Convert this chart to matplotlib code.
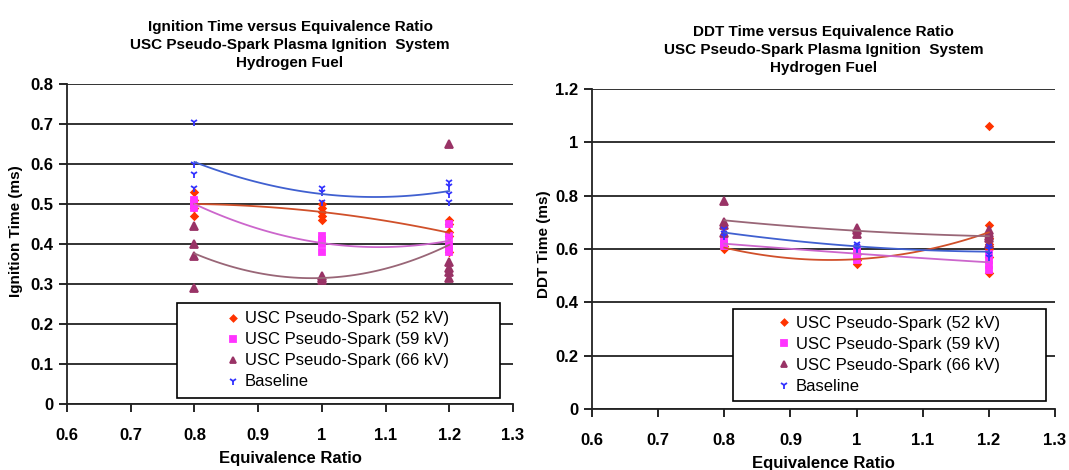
import numpy as np
import matplotlib
matplotlib.use('Agg')
import matplotlib.pyplot as plt
from matplotlib.patches import Rectangle

# ---- dados ----
labels = ['USC Pseudo-Spark (52 kV)', 'USC Pseudo-Spark (59 kV)',
          'USC Pseudo-Spark (66 kV)', 'Baseline']
phi_levels = [0.8, 1.0, 1.2]

# Ignition time (ms) por serie, um grupo por razao de equivalencia
ign_52 = [[0.53, 0.51, 0.50, 0.49, 0.47], [0.50, 0.49, 0.48, 0.47, 0.46], [0.46, 0.45, 0.43, 0.42, 0.38]]
ign_59 = [[0.51, 0.50, 0.49], [0.42, 0.41, 0.40, 0.38], [0.45, 0.42, 0.40, 0.39, 0.38]]
ign_66 = [[0.445, 0.40, 0.37, 0.29], [0.32, 0.315, 0.31], [0.65, 0.355, 0.34, 0.33, 0.315]]
ign_base = [[0.705, 0.60, 0.575, 0.54], [0.54, 0.53, 0.505], [0.555, 0.545, 0.525, 0.505]]

# DDT time (ms)
ddt_52 = [[0.61, 0.60], [0.58, 0.56, 0.545], [1.06, 0.69, 0.64, 0.62, 0.61, 0.60, 0.57, 0.51]]
ddt_59 = [[0.63, 0.62, 0.61], [0.60, 0.59, 0.58, 0.56], [0.58, 0.56, 0.54, 0.52]]
ddt_66 = [[0.78, 0.70, 0.69, 0.66], [0.68, 0.67, 0.655], [0.67, 0.66, 0.65, 0.64, 0.62]]
ddt_base = [[0.675, 0.66, 0.65], [0.62, 0.61, 0.60], [0.61, 0.60, 0.58, 0.57]]

ign_yticks = [0, 0.1, 0.2, 0.3, 0.4, 0.5, 0.6, 0.7, 0.8]
ddt_yticks = [0, 0.2, 0.4, 0.6, 0.8, 1.0, 1.2]
xticks = [0.6, 0.7, 0.8, 0.9, 1.0, 1.1, 1.2, 1.3]

# ---- estilos ----
marker_col = ['#FF3300', '#FF33FF', '#993366', '#3333FF']
trend_col = ['#D0502A', '#CC66CC', '#996677', '#4060D0']
markers = ['D', 's', '^', '1']
msizes = [3.5, 4.5, 5.5, 6]

fonte = ['Liberation Sans', 'DejaVu Sans']


def achatar(grupos):
    xs, ys = [], []
    for phi, g in zip(phi_levels, grupos):
        xs += [phi] * len(g)
        ys += g
    return np.array(xs), np.array(ys)


def desenhar(ax, series, yticks, titulo, ylabel, ylab_pos, leg_box):
    handles = []
    for i, grupos in enumerate(series):
        xs, ys = achatar(grupos)
        h, = ax.plot(xs, ys, linestyle='none', marker=markers[i], ms=msizes[i],
                     color=marker_col[i], mec=marker_col[i], mew=1.3, zorder=3,
                     label=labels[i])
        handles.append(h)
        # linha de tendencia polinomial (ordem 2) como no Excel
        coef = np.polyfit(xs, ys, 2)
        xx = np.linspace(min(phi_levels), max(phi_levels), 60)
        ax.plot(xx, np.polyval(coef, xx), color=trend_col[i], lw=1.3, zorder=4)

    ax.set_xlim(0.6, 1.3)
    ax.set_ylim(0, yticks[-1])
    ax.set_xticks(xticks)
    ax.set_yticks(yticks)
    ax.set_xticklabels(['%g' % v for v in xticks], fontfamily=fonte,
                       fontweight='bold', fontsize=12)
    ax.set_yticklabels(['%g' % v for v in yticks], fontfamily=fonte,
                       fontweight='bold', fontsize=12)
    ax.tick_params(axis='x', direction='out', length=6, width=1.2, pad=11)
    ax.tick_params(axis='y', direction='out', length=6, width=1.2, pad=4)
    ax.grid(axis='y', color='#222222', lw=1.3)
    ax.set_axisbelow(True)
    for s in ['top', 'right']:
        ax.spines[s].set_visible(False)
    for s in ['left', 'bottom']:
        ax.spines[s].set_linewidth(1.3)
        ax.spines[s].set_color('#222222')

    ax.set_title(titulo, fontfamily=fonte, fontweight='bold',
                 fontsize=11, linespacing=1.4, pad=12)
    ax.set_ylabel(ylabel, fontfamily=fonte, fontweight='bold', fontsize=11)
    ax.yaxis.set_label_coords(*ylab_pos)
    ax.set_xlabel('Equivalence Ratio', fontfamily=fonte,
                  fontweight='bold', fontsize=12, labelpad=6)

    # caixa da legenda
    x0, y0, w, h = leg_box
    ax.add_patch(Rectangle((x0, y0), w, h, transform=ax.transAxes, facecolor='white',
                           edgecolor='black', lw=1.2, zorder=5, clip_on=False))
    leg = ax.legend(handles=handles, loc='center', bbox_to_anchor=(x0 + w / 2, y0 + h / 2),
                    frameon=False, prop={'family': fonte, 'size': 12},
                    handlelength=0.6, handletextpad=0.4, labelspacing=0.36,
                    borderpad=0.2, markerscale=0.9)
    leg.set_zorder(6)


fig = plt.figure(figsize=(10.69, 4.70), dpi=100)
ax1 = fig.add_axes([0.0627, 0.1404, 0.4172, 0.6809])
ax2 = fig.add_axes([0.5538, 0.1298, 0.4331, 0.6809])

desenhar(ax1, [ign_52, ign_59, ign_66, ign_base], ign_yticks,
         'Ignition Time versus Equivalence Ratio\nUSC Pseudo-Spark Plasma Ignition  System\nHydrogen Fuel',
         'Ignition Time (ms)', (-0.098, 0.54), (0.247, 0.019, 0.724, 0.297))
desenhar(ax2, [ddt_52, ddt_59, ddt_66, ddt_base], ddt_yticks,
         'DDT Time versus Equivalence Ratio\nUSC Pseudo-Spark Plasma Ignition  System\nHydrogen Fuel',
         'DDT Time (ms)', (-0.089, 0.516), (0.305, 0.025, 0.675, 0.288))

fig.savefig('out.png', dpi=100)
